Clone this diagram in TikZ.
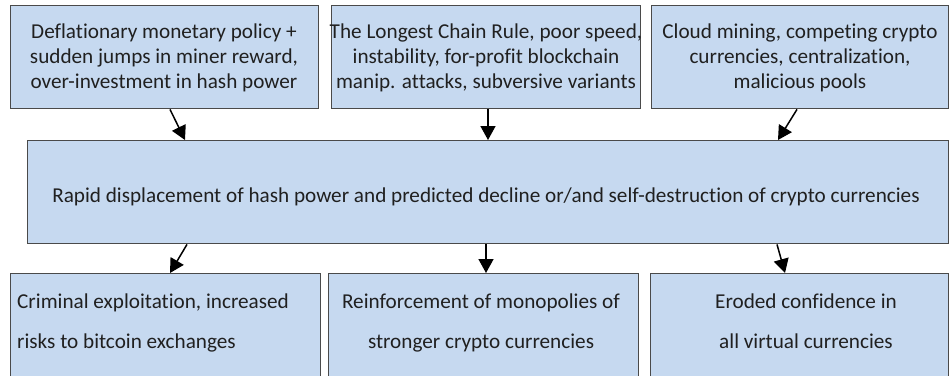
\documentclass[tikz,border=0pt]{standalone}
\usepackage{fontspec}
\setmainfont{Carlito}[Ligatures=NoCommon]
\usetikzlibrary{arrows.meta,positioning}
\definecolor{boxfill}{HTML}{C6D9F0}
\definecolor{boxline}{HTML}{4A4A4A}
\definecolor{txt}{HTML}{202020}
\tikzset{
  box/.style={draw=boxline, fill=boxfill, line width=1.4pt, inner sep=0pt, anchor=north west},
  boxtext/.style={text=txt, font=\fontsize{21.2}{25}\selectfont, align=center, inner sep=0pt},
  lowtext/.style={text=txt, font=\fontsize{21.2}{40}\selectfont, inner sep=0pt},
  arr/.style={line width=1.5pt, -{Triangle[width=15pt,length=14pt]}}
}
\begin{document}
\begin{tikzpicture}[x=1pt,y=-1pt]
\useasboundingbox (0,0) rectangle (950,375);
\begin{scope}
\clip (0,0) rectangle (950,375);
% top boxes
\node[box, minimum width=308pt, minimum height=103pt] (t1) at (10,5) {};
\node[box, minimum width=309pt, minimum height=103pt] (t2) at (331,5) {};
\node[box, minimum width=297pt, minimum height=103pt] (t3) at (651,5) {};
% middle box
\node[box, minimum width=921pt, minimum height=103pt] (m) at (27,140) {};
% bottom boxes
\node[box, minimum width=310pt, minimum height=120pt] (b1) at (10,273) {};
\node[box, minimum width=310pt, minimum height=120pt] (b2) at (328,273) {};
\node[box, minimum width=298pt, minimum height=120pt] (b3) at (650,273) {};
\end{scope}
% texts
\node[boxtext] (t1t) at (164,58) {Deflationary monetary policy +\\sudden jumps in miner reward,\\over-investment in hash power};
\node[boxtext] (t2t) at (486,58) {The Longest Chain Rule, poor speed,\\instability, for-profit blockchain\\manip. attacks, subversive variants};
\node[boxtext] (t3t) at (800,58) {Cloud mining, competing crypto\\currencies, centralization,\\malicious pools};
\node[boxtext] (mt) at (486,197) {Rapid displacement of hash power and predicted decline or/and self-destruction of crypto currencies};
\node[lowtext, align=left, anchor=north west] (b1t) at (17,294) {Criminal exploitation, increased\\risks to bitcoin exchanges};
\node[lowtext, align=center, anchor=north] (b2t) at (481,294) {Reinforcement of monopolies of\\stronger crypto currencies};
\node[lowtext, align=center, anchor=north] (b3t) at (806,294) {Eroded confidence in\\all virtual currencies};
% arrows
\draw[arr] ([xshift=160pt]t1.south west) -- ([xshift=158pt]m.north west);
\draw[arr] ([xshift=157pt]t2.south west) -- ([xshift=461pt]m.north west);
\draw[arr] ([xshift=146pt]t3.south west) -- ([xshift=751pt]m.north west);
\draw[arr] ([xshift=160pt]m.south west) -- ([xshift=160pt]b1.north west);
\draw[arr] ([xshift=459pt]m.south west) -- ([xshift=158pt]b2.north west);
\draw[arr] ([xshift=750pt]m.south west) -- ([xshift=135pt]b3.north west);
\end{tikzpicture}
\end{document}
